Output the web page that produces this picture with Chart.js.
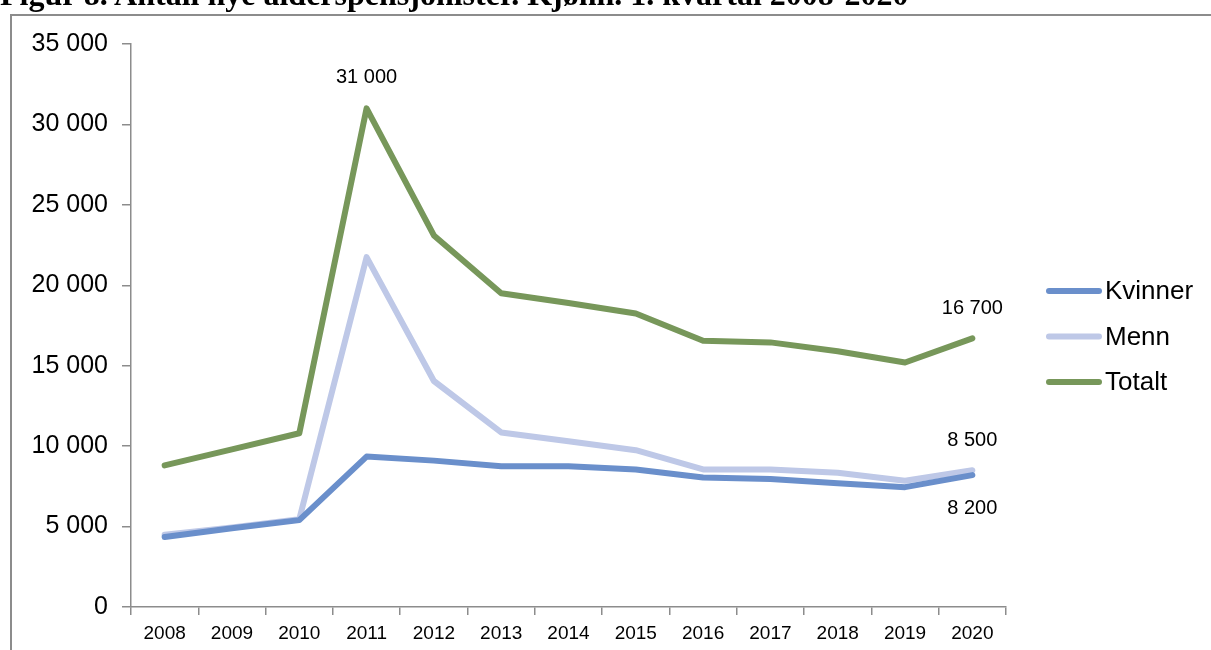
<!DOCTYPE html>
<html>
<head>
<meta charset="utf-8">
<script src="https://cdn.jsdelivr.net/npm/chart.js@4.4.1/dist/chart.umd.min.js"></script>
<style>
  html, body { margin: 0; padding: 0; background: #fff; overflow: hidden; }
  #wrap { position: relative; width: 1211px; height: 650px; }
  #title {
    position: absolute; left: 0; top: -22px; white-space: nowrap;
    font: bold 32px "Liberation Serif", "Times New Roman", serif; line-height: 32px; color: #000;
  }
  canvas { position: absolute; left: 0; top: 0; }
</style>
</head>
<body>
<div id="wrap">
  <canvas id="chart" width="1211" height="650"></canvas>
  <div id="title">Figur 8. Antall nye alderspensjonister. Kjønn. 1. kvartal 2008-2020</div>
</div>
<script>
// categories and series
const years = ['2008', '2009', '2010', '2011', '2012', '2013', '2014', '2015', '2016', '2017', '2018', '2019', '2020'];
const kvinner = [4350, 4900, 5400, 9350, 9100, 8750, 8750, 8550, 8050, 7950, 7700, 7450, 8200];
const menn = [4500, 4950, 5450, 21750, 14050, 10850, 10300, 9750, 8550, 8550, 8350, 7850, 8500];
const totalt = [8800, 9800, 10800, 31000, 23100, 19500, 18900, 18250, 16550, 16450, 15900, 15200, 16700];
const yTicks = [0, 5000, 10000, 15000, 20000, 25000, 30000, 35000];

// point labels: [dataset index, point index, text offset y]
const pointLabels = [
    [2, 3, -31],
    [2, 12, -30],
    [1, 12, -30],
    [0, 12, 33]
];

const fmt = v => String(v).replace(/\B(?=(\d{3})+(?!\d))/g, ' ');

const framePlugin = {
    id: 'frame',
    beforeDraw(chart) {
        const ctx = chart.ctx;
        ctx.save();
        ctx.strokeStyle = '#8c8c8c';
        ctx.lineWidth = 2;
        ctx.beginPath();
        ctx.moveTo(11, 650);
        ctx.lineTo(11, 15);
        ctx.lineTo(1211, 15);
        ctx.stroke();
        ctx.restore();
    }
};

const labelPlugin = {
    id: 'pointLabels',
    afterDatasetsDraw(chart) {
        const ctx = chart.ctx;
        ctx.save();
        ctx.font = '20px "Liberation Sans", Arial, sans-serif';
        ctx.fillStyle = '#000';
        ctx.textAlign = 'center';
        ctx.textBaseline = 'middle';
        pointLabels.forEach(function(p) {
            const pt = chart.getDatasetMeta(p[0]).data[p[1]];
            const val = chart.data.datasets[p[0]].data[p[1]];
            ctx.fillText(fmt(Math.round(val / 100) * 100), pt.x, pt.y + p[2]);
        });
        ctx.restore();
    }
};

const legendPlugin = {
    id: 'sideLegend',
    afterDraw(chart) {
        const ctx = chart.ctx;
        ctx.save();
        ctx.font = '26px "Liberation Sans", Arial, sans-serif';
        ctx.textBaseline = 'middle';
        ctx.lineCap = 'round';
        chart.data.datasets.forEach(function(ds, i) {
            const y = 291 + i * 45.5;
            ctx.strokeStyle = ds.borderColor;
            ctx.lineWidth = 6;
            ctx.beginPath();
            ctx.moveTo(1049, y);
            ctx.lineTo(1099, y);
            ctx.stroke();
            ctx.fillStyle = '#000';
            ctx.fillText(ds.label, 1105, y + 1);
        });
        ctx.restore();
    }
};

const lineStyle = {
    borderWidth: 6,
    pointRadius: 0,
    tension: 0,
    fill: false,
    borderJoinStyle: 'round',
    borderCapStyle: 'round'
};

new Chart(document.getElementById('chart').getContext('2d'), {
    type: 'line',
    data: {
        labels: years,
        datasets: [
            Object.assign({ label: 'Kvinner', data: kvinner, borderColor: '#6a8fcb', backgroundColor: '#6a8fcb' }, lineStyle),
            Object.assign({ label: 'Menn', data: menn, borderColor: '#bec8e7', backgroundColor: '#bec8e7' }, lineStyle),
            Object.assign({ label: 'Totalt', data: totalt, borderColor: '#77975a', backgroundColor: '#77975a' }, lineStyle)
        ]
    },
    options: {
        responsive: false,
        animation: false,
        layout: { autoPadding: false, padding: { left: 10, right: 205, top: 44, bottom: 0 } },
        plugins: { legend: { display: false }, tooltip: { enabled: false } },
        scales: {
            x: {
                offset: true,
                grid: { offset: true, drawOnChartArea: false, tickLength: 8, color: '#8c8c8c', lineWidth: 1.5 },
                border: { color: '#8c8c8c', width: 1.5 },
                ticks: { color: '#000', font: { family: '"Liberation Sans", Arial, sans-serif', size: 19 }, padding: 7, maxRotation: 0 },
                afterFit(scale) { scale.height = 43; }
            },
            y: {
                min: 0,
                max: 35000,
                afterBuildTicks(scale) { scale.ticks = yTicks.map(v => ({ value: v })); },
                grid: { drawOnChartArea: false, tickLength: 9, color: '#8c8c8c', lineWidth: 1.5 },
                border: { color: '#8c8c8c', width: 1.5 },
                ticks: { color: '#000', font: { family: '"Liberation Sans", Arial, sans-serif', size: 25 }, padding: 14, callback: v => fmt(v) },
                afterFit(scale) { scale.width = 121; }
            }
        }
    },
    plugins: [framePlugin, labelPlugin, legendPlugin]
});
</script>
</body>
</html>
